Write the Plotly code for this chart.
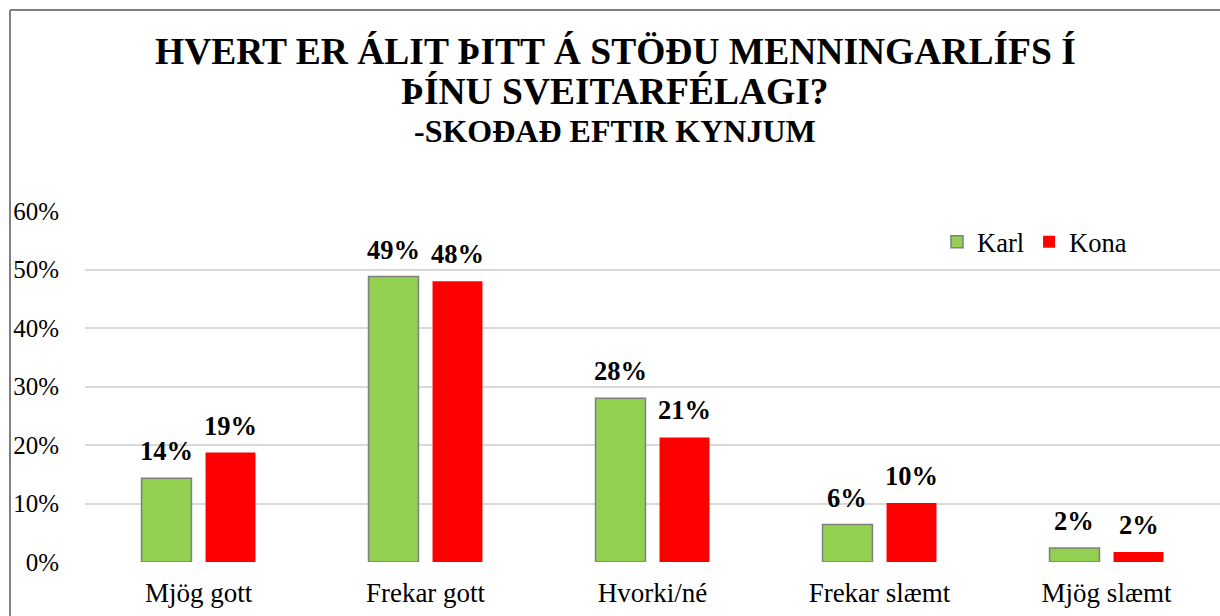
import plotly.graph_objects as go

categories = ["Mjög gott", "Frekar gott", "Hvorki/né", "Frekar slæmt", "Mjög slæmt"]
karl = [0.143, 0.488, 0.280, 0.064, 0.024]
kona = [0.187, 0.480, 0.213, 0.101, 0.017]
karl_labels = ["14%", "49%", "28%", "6%", "2%"]
kona_labels = ["19%", "48%", "21%", "10%", "2%"]
y_ticks = [0, 0.1, 0.2, 0.3, 0.4, 0.5, 0.6]
y_tick_labels = ["0%", "10%", "20%", "30%", "40%", "50%", "60%"]
title_lines = ["HVERT ER ÁLIT ÞITT Á STÖÐU MENNINGARLÍFS Í",
               "ÞÍNU SVEITARFÉLAGI?",
               "-SKOĐAĐ EFTIR KYNJUM"]

W, H = 1220, 616
L, R, T, B = 85, 0, 211, 54
PW = W - L - R
PH = H - T - B
FONT = "Liberation Serif"

def py(p):
    return (H - B - p) / PH

def px(p):
    return (p - L) / PW

fig = go.Figure()
fig.add_trace(go.Bar(name="Karl", x=categories, y=karl,
                     marker=dict(color="#92D050", line=dict(color="#7F7F7F", width=1.5))))
fig.add_trace(go.Bar(name="Kona", x=categories, y=kona,
                     marker=dict(color="#FF0000", line=dict(width=0))))

bargap = 0.436
shift = (1 - bargap) * (PW / len(categories)) / 4
annotations = []
for c, v, t in zip(categories, karl, karl_labels):
    annotations.append(dict(x=c, y=v, xref="x", yref="y", text="<b>" + t + "</b>", showarrow=False,
                            xshift=-shift, yshift=10, yanchor="bottom",
                            font=dict(family=FONT, size=26.5, color="black")))
for c, v, t in zip(categories, kona, kona_labels):
    annotations.append(dict(x=c, y=v, xref="x", yref="y", text="<b>" + t + "</b>", showarrow=False,
                            xshift=shift, yshift=10, yanchor="bottom",
                            font=dict(family=FONT, size=26.5, color="black")))

for text, ypix, size in zip(title_lines, [51, 92, 131], [37.5, 37.5, 32]):
    annotations.append(dict(x=px(615), y=py(ypix), xref="paper", yref="paper", text="<b>" + text + "</b>",
                            showarrow=False, xanchor="center", yanchor="middle",
                            font=dict(family=FONT, size=size, color="black")))

shapes = [
    dict(type="line", xref="paper", yref="paper", x0=px(10), x1=px(10), y0=py(10), y1=py(H + 5),
         line=dict(color="#808080", width=2)),
    dict(type="line", xref="paper", yref="paper", x0=px(10), x1=px(W + 5), y0=py(10), y1=py(10),
         line=dict(color="#808080", width=2)),
]

fig.update_layout(
    width=W, height=H,
    margin=dict(l=L, r=R, t=T, b=B, pad=0),
    paper_bgcolor="white", plot_bgcolor="white",
    barmode="group", bargap=bargap, bargroupgap=0.22,
    font=dict(family=FONT, size=25, color="black"),
    showlegend=True,
    legend=dict(orientation="h", x=px(937), y=py(242), xanchor="left", yanchor="middle",
                font=dict(family=FONT, size=26.5, color="black"), bgcolor="rgba(0,0,0,0)",
                itemwidth=30, traceorder="normal"),
    annotations=annotations,
    shapes=shapes,
    xaxis=dict(showgrid=False, showline=False, zeroline=False, ticks="outside", ticklen=7,
               tickcolor="rgba(0,0,0,0)", tickfont=dict(family=FONT, size=27, color="black")),
    yaxis=dict(range=[0, 0.6], tickvals=y_ticks, ticktext=y_tick_labels, showgrid=True,
               gridcolor="#D9D9D9", gridwidth=1.5, zeroline=False, showline=False,
               ticks="outside", ticklen=20, tickcolor="rgba(0,0,0,0)",
               tickfont=dict(family=FONT, size=25, color="black")),
)

fig.write_html("out.html", config={"displayModeBar": False},
               post_script="document.body.style.margin='0';document.body.style.padding='0';")
